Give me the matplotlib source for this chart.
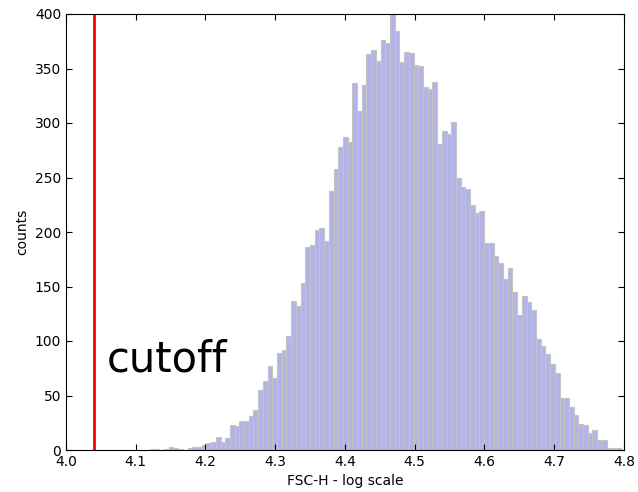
import numpy as np
import matplotlib
matplotlib.use('Agg')
import matplotlib.pyplot as plt

# histogram of FSC-H (log10), 100 bins between the data min and max
bin_lo = 4.1203
bin_hi = 4.7953
counts = [
    1, 1, 0, 1, 3, 2, 1, 0, 2, 3,
    3, 5, 6, 7, 12, 7, 11,
    23, 22, 27, 27, 31, 37, 55, 63, 77, 66,
    89, 92, 105, 137, 132, 153, 186, 188, 202, 204,
    192, 238, 258, 278, 287, 283, 337, 311, 335, 363,
    367, 357, 376, 373, 400,
    384, 356, 365, 364, 353, 352, 333, 331, 338, 281,
    293, 290, 301, 250, 241, 239, 225, 217, 219, 190,
    190, 178, 172, 157, 167, 145, 124, 141, 136, 128,
    102, 95, 88, 79, 71, 48, 48, 39, 32, 24,
    23, 16, 18, 9, 9, 2, 2, 2,
]
cutoff = 4.04

edges = np.linspace(bin_lo, bin_hi, len(counts) + 1)
centers = 0.5 * (edges[:-1] + edges[1:])

fig = plt.figure(figsize=(6.38, 4.92), dpi=100)
ax = fig.add_axes([66/638, 42/492, 558/638, 436/492])

ax.hist(centers, bins=edges, weights=counts, facecolor='#b3b3e8',
        edgecolor='#c4c4c4', linewidth=0.8)
ax.axvline(cutoff, color='red', linewidth=2)
ax.text(4.059, 72, 'cutoff', fontsize=30)

ax.set_xlim(4.0, 4.8)
ax.set_ylim(0, 400)
ax.set_xticks(np.arange(4.0, 4.81, 0.1))
ax.set_yticks(np.arange(0, 401, 50))
ax.tick_params(direction='in', top=True, right=True, length=4, labelsize=10)
ax.set_xlabel('FSC-H - log scale', fontsize=10)
ax.set_ylabel('counts', fontsize=10)

fig.savefig('out.png', dpi=100)
